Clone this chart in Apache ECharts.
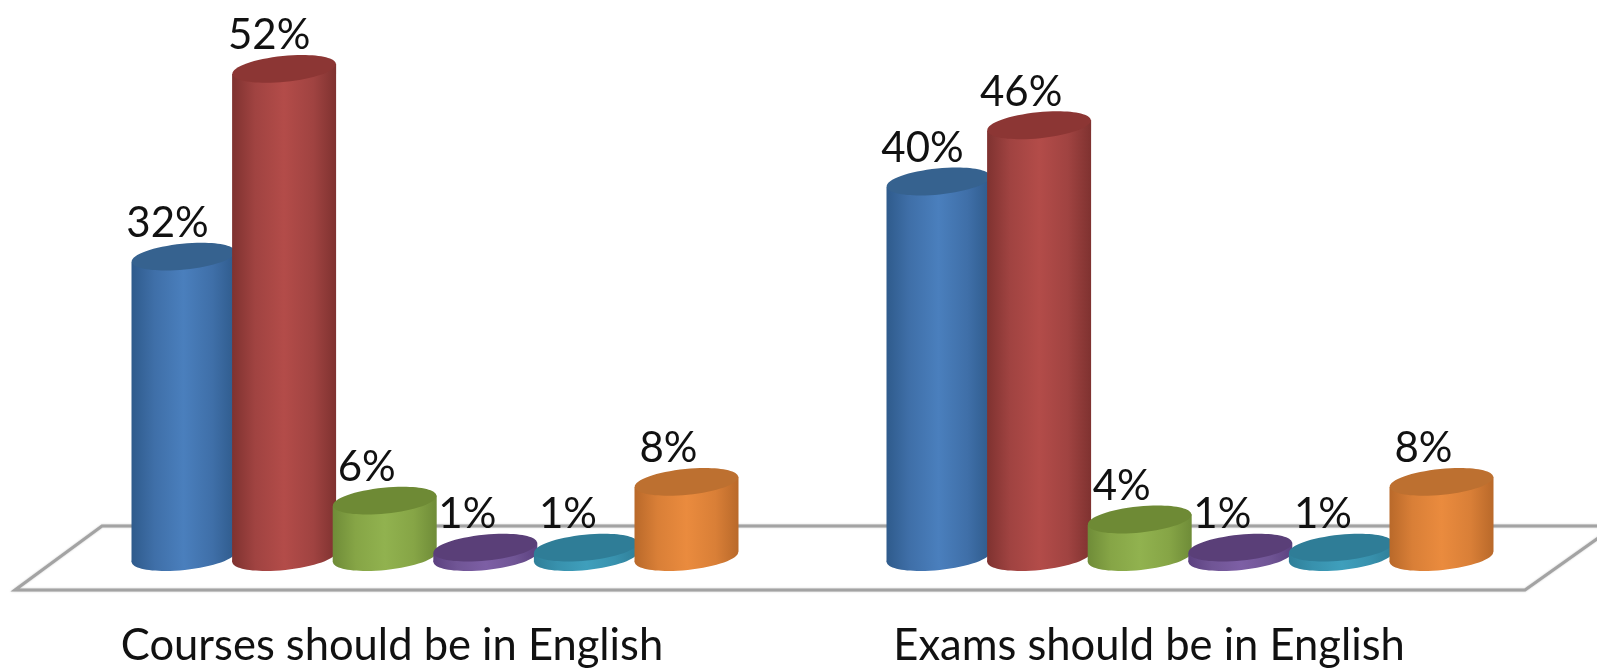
<!DOCTYPE html>
<html>
<head>
<meta charset="utf-8">
<style>html,body{margin:0;padding:0;background:#fff}#c{width:1597px;height:671px}</style>
<script src="https://cdn.jsdelivr.net/npm/echarts@6/dist/echarts.min.js"></script>
</head>
<body>
<div id="c"></div>
<script>
const categories = ['Courses should be in English', 'Exams should be in English'];
const blueValues = [32, 40];
const redValues = [52, 46];
const greenValues = [6, 4];
const purpleValues = [1, 1];
const tealValues = [1, 1];
const orangeValues = [8, 8];

const palette = [
  {edge:'#2f5b8c', soft:'#3f6fa8', mid:'#4a7fbd', top:'#36628f'},
  {edge:'#7f3230', soft:'#a04341', mid:'#b34c49', top:'#8c3634'},
  {edge:'#6f8c38', soft:'#86a546', mid:'#91b24f', top:'#6e8a35'},
  {edge:'#5c4180', soft:'#705595', mid:'#7d5fa5', top:'#5a3f78'},
  {edge:'#2f7f99', soft:'#3891ad', mid:'#3f9fbc', top:'#2f7d97'},
  {edge:'#b9692a', soft:'#d97f37', mid:'#ea8b3e', top:'#bd7030'}
];
const FONT = 'Lato, "Open Sans", sans-serif';
const STEP = 100.6, SHIFTS = [43, 41], RX = 52, RY = 13, TILT = 0.1;
const BASE_Y = 560.5, PX_PER_PCT = 9.45;
const labelDx = (s, c) => (s === 0 ? -16 : (s === 1 && c === 0 ? -15 : -18));

function renderCyl(sIdx) {
  return function (params, api) {
    const cat = api.value(0), val = api.value(1);
    const top = api.coord([cat, val]);
    const base = api.coord([cat, 0]);
    const cx = top[0] + (sIdx - 2.5) * STEP + SHIFTS[cat];
    const p = palette[sIdx];
    const grad = {type:'linear', x:0, y:0, x2:1, y2:0, colorStops:[
      {offset:0, color:p.edge},{offset:0.22, color:p.soft},{offset:0.5, color:p.mid},
      {offset:0.78, color:p.soft},{offset:1, color:p.edge}]};
    const dy = RX * Math.sin(TILT);
    return {type:'group', children:[
      {type:'ellipse', shape:{cx:cx, cy:base[1], rx:RX, ry:RY}, rotation:TILT, originX:cx, originY:base[1], style:{fill:grad}},
      {type:'polygon', shape:{points:[[cx-RX,top[1]+dy],[cx+RX,top[1]-dy],[cx+RX,base[1]-dy],[cx-RX,base[1]+dy]]}, style:{fill:grad}},
      {type:'ellipse', shape:{cx:cx, cy:top[1], rx:RX, ry:RY}, rotation:TILT, originX:cx, originY:top[1], style:{fill:p.top}},
      {type:'text', z2:100, style:{text:val+'%', x:cx+labelDx(sIdx,cat), y:top[1]-33, align:'center', verticalAlign:'middle', font:'42px '+FONT, fill:'#111'}}
    ]};
  };
}

const seriesValues = [blueValues, redValues, greenValues, purpleValues, tealValues, orangeValues];
const chart = echarts.init(document.getElementById('c'));
chart.setOption({
  animation:false,
  backgroundColor:'#fff',
  grid:{left:13.5, width:1514, top:BASE_Y-55*PX_PER_PCT, height:55*PX_PER_PCT},
  xAxis:{type:'category', data:categories, axisLine:{show:false}, axisTick:{show:false},
    axisLabel:{margin:64, fontFamily:FONT, fontSize:43.5, color:'#111', lineHeight:50}},
  yAxis:{type:'value', min:0, max:55, show:false, splitLine:{show:false}},
  graphic:[{type:'polygon', silent:true, z:-1, shape:{points:[[15,590],[102,526],[1615,526],[1525,590]]},
    style:{fill:'#fff', stroke:'#a3a3a3', lineWidth:3, shadowBlur:2, shadowColor:'rgba(120,120,120,0.4)'}}],
  series:seriesValues.map((vals,i)=>({type:'custom', coordinateSystem:'cartesian2d', clip:false,
    renderItem:renderCyl(i), data:vals.map((v,c)=>[c,v]), encode:{x:0,y:1}}))
});
</script>
</body>
</html>
